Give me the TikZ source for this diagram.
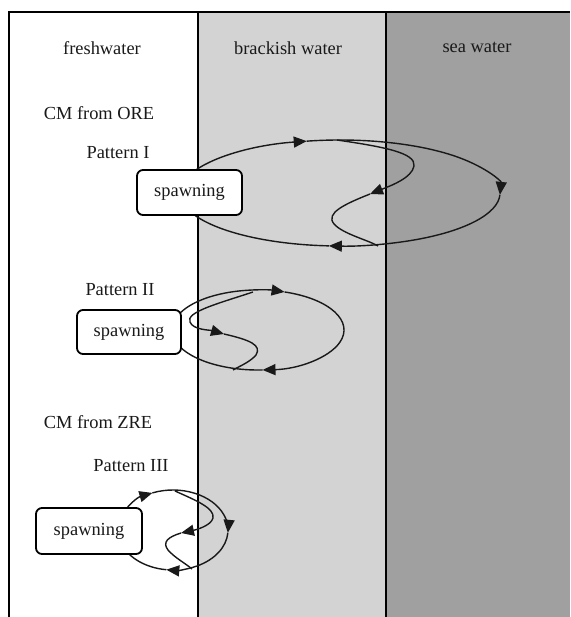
\documentclass[tikz,border=0pt]{standalone}
\usepackage{fontspec}
\setmainfont{Liberation Serif}
\usetikzlibrary{arrows.meta,calc}
\definecolor{brack}{RGB}{211,211,211}
\definecolor{seacol}{RGB}{160,160,160}
\begin{document}
\begin{tikzpicture}[x=1pt,y=1pt,yscale=-1,
  lbl/.style={font=\fontsize{18.4}{22}\selectfont, inner sep=0pt, text=black!90},
  border/.style={line width=2pt, black},
  loopline/.style={line width=1.4pt, black!90},
  flow/.style={loopline, -{Triangle[length=13pt,width=11pt]}},
  spawnbox/.style={draw, line width=1.8pt, rounded corners=6pt, fill=white,
    inner sep=0pt, font=\fontsize{18.4}{22}\selectfont, text=black!90}
]
\useasboundingbox (0,0) rectangle (570,617);
% zones
\fill[brack] (198,12) rectangle (386,617);
\fill[seacol] (386,12) rectangle (570,617);
\draw[border] (9,617) -- (9,12) -- (570,12);
\draw[border] (198,12) -- (198,617);
\draw[border] (386,12) -- (386,617);
% labels
\node[lbl] (fw) at (102,48) {freshwater};
\node[lbl] (bw) at (288,48) {brackish water};
\node[lbl] (sw) at (477,47) {sea water};
\node[lbl] (ore) at (99,113) {CM from ORE};
\node[lbl] (p1) at (118,153) {Pattern I};
\node[lbl] (p2) at (120,290) {Pattern II};
\node[lbl] (zre) at (98,422) {CM from ZRE};
\node[lbl] (p3) at (131,466) {Pattern III};
% loop I
\coordinate (e1) at (340,193);
\draw[flow] ($(e1)+(200:160pt and 53pt)$) arc[start angle=200,end angle=258,x radius=160pt,y radius=53pt];
\draw[flow] ($(e1)+(258:160pt and 53pt)$) arc[start angle=258,end angle=362,x radius=160pt,y radius=53pt];
\draw[flow] ($(e1)+(2:160pt and 53pt)$) arc[start angle=2,end angle=94,x radius=160pt,y radius=53pt];
\draw[loopline] ($(e1)+(94:160pt and 53pt)$) arc[start angle=94,end angle=160,x radius=160pt,y radius=53pt];
\coordinate (s1a) at (337,140);
\coordinate (s1b) at (370,194);
\coordinate (s1c) at (378,246);
\draw[flow] (s1a) .. controls (385,147) and (416,153) .. (414,166) .. controls (412,178) and (390,186) .. (s1b);
\draw[loopline] (s1b) .. controls (345,204) and (325,213) .. (334,224) .. controls (343,234) and (368,240) .. (s1c);
% loop II
\coordinate (e2) at (258,330);
\draw[flow] ($(e2)+(195:86pt and 40pt)$) arc[start angle=195,end angle=288,x radius=86pt,y radius=40pt];
\draw[flow] ($(e2)+(288:86pt and 40pt)$) arc[start angle=288,end angle=447,x radius=86pt,y radius=40pt];
\draw[loopline] ($(e2)+(87:86pt and 40pt)$) arc[start angle=87,end angle=165,x radius=86pt,y radius=40pt];
\coordinate (s2a) at (253,292);
\coordinate (s2b) at (224,334);
\coordinate (s2c) at (233,370);
\draw[flow] (s2a) .. controls (220,303) and (185,312) .. (190,322) .. controls (193,330) and (210,330) .. (s2b);
\draw[loopline] (s2b) .. controls (250,340) and (262,345) .. (256,355) .. controls (250,362) and (240,366) .. (s2c);
% loop III
\coordinate (e3) at (173,530);
\draw[flow] ($(e3)+(200:55pt and 40pt)$) arc[start angle=200,end angle=248,x radius=55pt,y radius=40pt];
\draw[flow] ($(e3)+(248:55pt and 40pt)$) arc[start angle=248,end angle=364,x radius=55pt,y radius=40pt];
\draw[flow] ($(e3)+(4:55pt and 40pt)$) arc[start angle=4,end angle=97,x radius=55pt,y radius=40pt];
\draw[loopline] ($(e3)+(97:55pt and 40pt)$) arc[start angle=97,end angle=160,x radius=55pt,y radius=40pt];
\coordinate (s3a) at (175,491);
\coordinate (s3b) at (181,533);
\coordinate (s3c) at (192,569);
\draw[flow] (s3a) .. controls (195,500) and (215,508) .. (213,518) .. controls (211,526) and (195,530) .. (s3b);
\draw[loopline] (s3b) .. controls (168,537) and (162,542) .. (168,550) .. controls (175,558) and (185,563) .. (s3c);
% spawning boxes
\node[spawnbox, minimum width=105pt, minimum height=45pt] (sp1) at (189.5,192.5) {spawning};
\node[spawnbox, minimum width=104pt, minimum height=44pt] (sp2) at (129,332) {spawning};
\node[spawnbox, minimum width=106pt, minimum height=46pt] (sp3) at (89,531) {spawning};
\end{tikzpicture}
\end{document}
